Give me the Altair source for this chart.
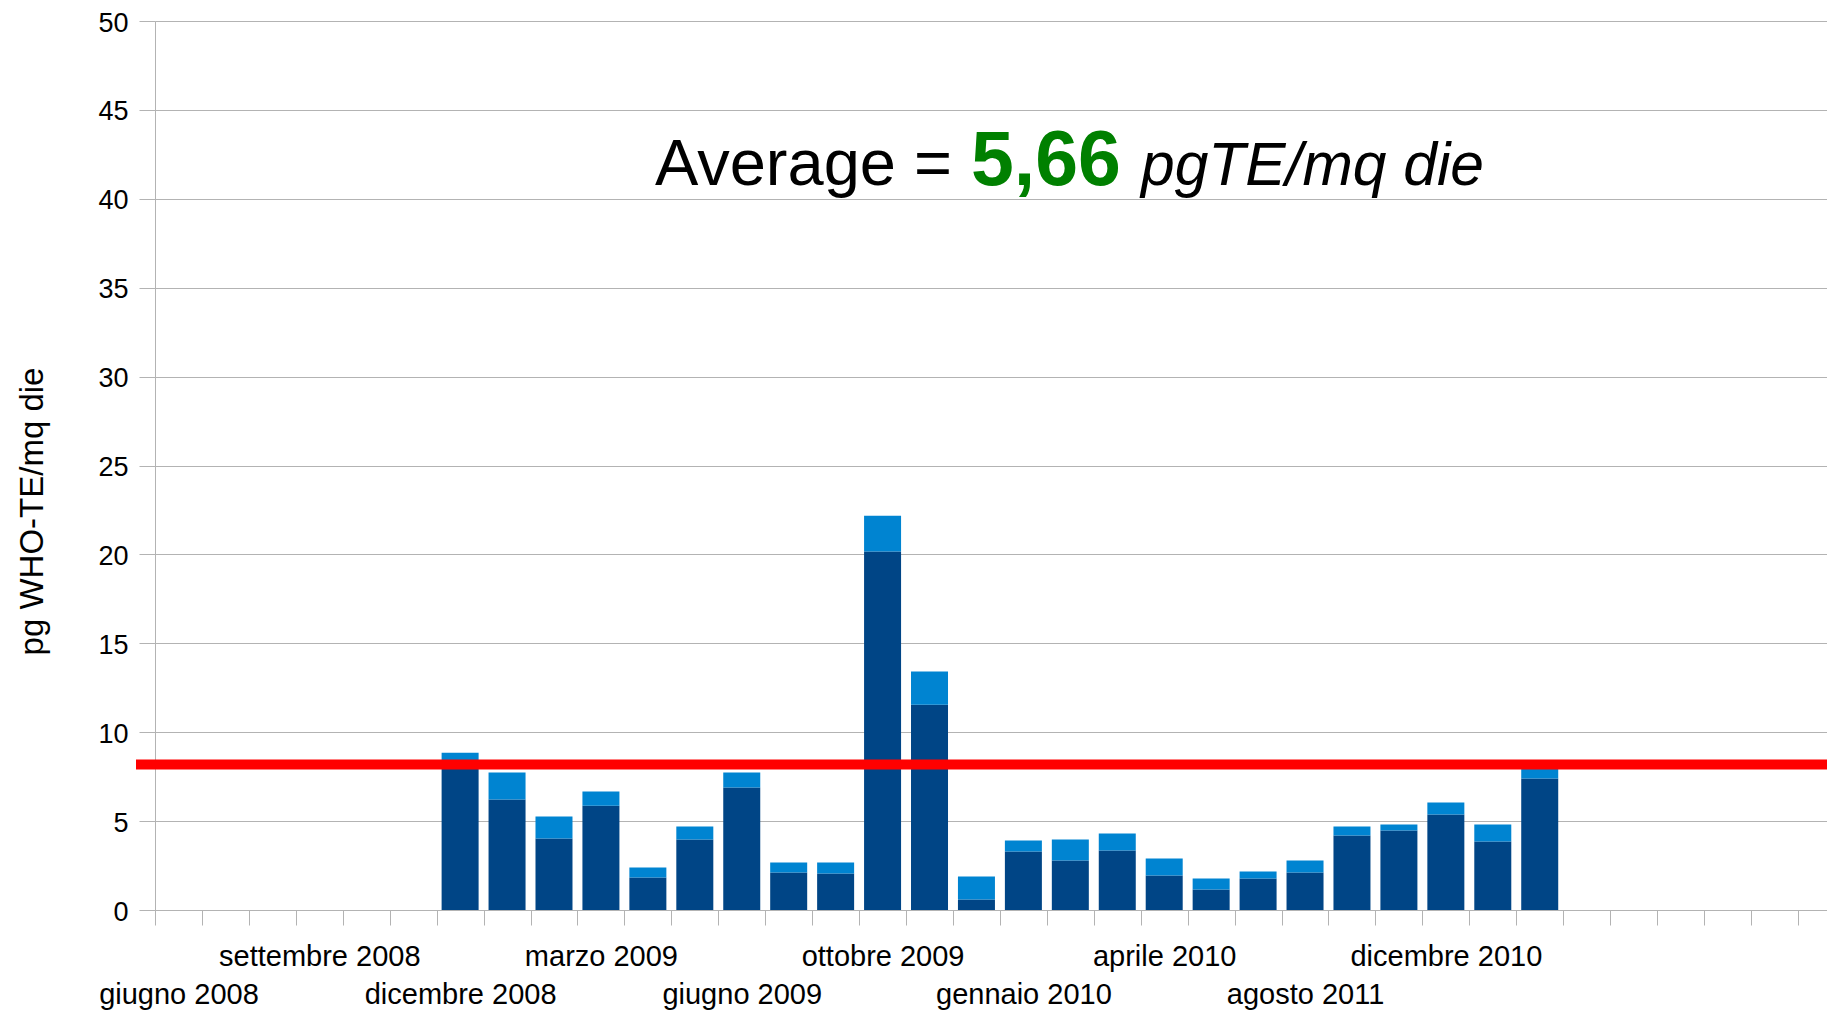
import altair as alt
import pandas as pd

# ---- data ----
n_categories = 36
label_index = [0, 3, 6, 9, 12, 15, 18, 21, 24, 27]
label_text = ["giugno 2008", "settembre 2008", "dicembre 2008", "marzo 2009",
              "giugno 2009", "ottobre 2009", "gennaio 2010", "aprile 2010",
              "agosto 2011", "dicembre 2010"]
label_row = [2, 1, 2, 1, 2, 1, 2, 1, 2, 1]

bar_index = list(range(6, 30))
dark_values = [8.20, 6.21, 4.02, 5.87, 1.83, 3.96, 6.89, 2.11, 2.05, 20.16, 11.55, 0.59,
               3.29, 2.78, 3.34, 1.94, 1.15, 1.77, 2.11, 4.19, 4.47, 5.37, 3.85, 7.39]
light_values = [0.65, 1.52, 1.24, 0.79, 0.56, 0.73, 0.84, 0.56, 0.62, 2.02, 1.86, 1.29,
                0.62, 1.18, 0.96, 0.95, 0.62, 0.39, 0.67, 0.50, 0.34, 0.67, 0.96, 0.61]
limit_value = [8.18]
y_ticks = [0, 5, 10, 15, 20, 25, 30, 35, 40, 45, 50]

rows = []
for i, d, l in zip(bar_index, dark_values, light_values):
    rows.append({"idx": i, "series": "s1", "ord": 1, "value": d})
    rows.append({"idx": i, "series": "s2", "ord": 2, "value": l})
df = pd.DataFrame(rows)

FONT = "Liberation Sans"
GRAY = "#b3b3b3"
W, H = 1672, 889
X_MAX = 35.62

# label expression: labels at category centres, alternating two rows
lab_map = {i: (t, r) for i, t, r in zip(label_index, label_text, label_row)}
entries = []
for i in range(n_categories):
    if i in lab_map:
        t, r = lab_map[i]
        entries.append(f"['', '{t}']" if r == 2 else f"'{t}'")
    else:
        entries.append("''")
label_expr = "datum.value % 1 == 0 ? '' : [" + ",".join(entries) + "][floor(datum.value)]"
axis_values = [k * 0.5 for k in range(2 * n_categories) if k * 0.5 <= X_MAX]

x_scale = alt.Scale(domain=[0, X_MAX], nice=False, zero=False, padding=0)
y_scale = alt.Scale(domain=[0, 50], nice=False)

bars = alt.Chart(df).transform_calculate(pos="datum.idx + 0.5").mark_bar(size=37).encode(
    x=alt.X("pos:Q", scale=x_scale, title=None,
            axis=alt.Axis(values=axis_values, grid=False, tickSize=15, tickColor=GRAY,
                          tickOpacity={"condition": {"test": "datum.value % 1 != 0", "value": 0}, "value": 1},
                          domainColor=GRAY, labelExpr=label_expr, labelOverlap=False,
                          labelFlush=False, labelBound=False, labelLimit=0, labelFont=FONT,
                          labelFontSize=29, labelColor="black", labelPadding=17,
                          labelBaseline="top", labelLineHeight=38)),
    y=alt.Y("value:Q", stack="zero", scale=y_scale,
            axis=alt.Axis(values=y_ticks, grid=True, gridColor=GRAY, tickColor=GRAY, tickSize=16,
                          domainColor=GRAY, labelFont=FONT, labelFontSize=27, labelColor="black",
                          labelPadding=11, labelOffset=2,
                          title="pg WHO-TE/mq die", titleFont=FONT, titleFontSize=33,
                          titleFontWeight="normal", titleColor="black", titleAngle=270,
                          titleX=-123, titleY=490, titleAlign="center", titleBaseline="middle")),
    color=alt.Color("series:N", scale=alt.Scale(domain=["s1", "s2"], range=["#004586", "#0084d1"]),
                    legend=None),
    order=alt.Order("ord:Q"),
)

rule = alt.Chart(pd.DataFrame({"v": limit_value})).mark_rule(color="#ff0000", strokeWidth=10).encode(
    y=alt.Y("v:Q", scale=y_scale), x=alt.value(-19), x2=alt.value(W)
)

t1 = alt.Chart(pd.DataFrame({"t": ["Average ="]})).mark_text(
    font=FONT, fontSize=65, align="left", baseline="alphabetic", color="black"
).encode(text="t:N", x=alt.value(500), y=alt.value(164))
t2 = alt.Chart(pd.DataFrame({"t": ["5,66"]})).mark_text(
    font=FONT, fontSize=77, fontWeight="bold", align="left", baseline="alphabetic", color="#008000"
).encode(text="t:N", x=alt.value(816), y=alt.value(164))
t3 = alt.Chart(pd.DataFrame({"t": ["pgTE/mq die"]})).mark_text(
    font=FONT, fontSize=60.5, fontStyle="italic", align="left", baseline="alphabetic", color="black"
).encode(text="t:N", x=alt.value(986), y=alt.value(164))

chart = alt.layer(bars, rule, t1, t2, t3).properties(
    width=W, height=H,
    autosize=alt.AutoSizeParams(type="none"),
    padding={"left": 147, "top": 13, "right": 0, "bottom": 104},
).configure_view(strokeWidth=0).configure(background="white")

chart.save("out.html", embed_options={"renderer": "svg", "actions": False})
